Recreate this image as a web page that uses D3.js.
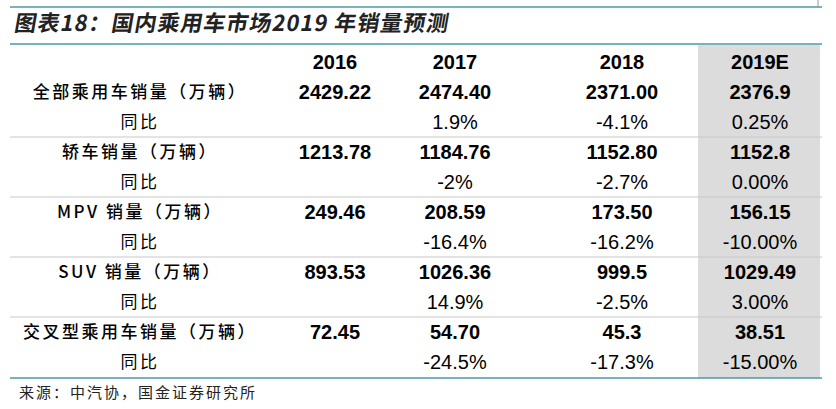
<!DOCTYPE html><html><head><meta charset="utf-8"><script src="https://cdn.jsdelivr.net/npm/d3@7"></script>
<style>body{margin:0;background:#fff}</style></head><body><svg id="c" width="836" height="409"></svg>
<script>
const years=["2016","2017","2018","2019E"];
const rowLabels=["全部乘用车销量（万辆）","同比","轿车销量（万辆）","同比","MPV 销量（万辆）","同比","SUV 销量（万辆）","同比","交叉型乘用车销量（万辆）","同比"];
const v2016=["2429.22","","1213.78","","249.46","","893.53","","72.45",""];
const v2017=["2474.40","1.9%","1184.76","-2%","208.59","-16.4%","1026.36","14.9%","54.70","-24.5%"];
const v2018=["2371.00","-4.1%","1152.80","-2.7%","173.50","-16.2%","999.5","-2.5%","45.3","-17.3%"];
const v2019=["2376.9","0.25%","1152.8","0.00%","156.15","-10.00%","1029.49","3.00%","38.51","-15.00%"];
const cols=[v2016,v2017,v2018,v2019];
const svg=d3.select("#c");
const teal="#4a9aa5";
const num="'Liberation Sans Narrow','Arial Narrow','Liberation Sans',Arial,sans-serif";
const cjk="'Noto Sans CJK SC',sans-serif";
const y=d3.scaleBand().domain(d3.range(11)).range([47,377]);
const colX=[335,455,622,760];
svg.append("rect").attr("x",698).attr("y",45).attr("width",122).attr("height",333).attr("fill","#dcdcdc");
svg.append("line").attr("x1",10).attr("x2",822).attr("y1",7).attr("y2",7).attr("stroke",teal).attr("stroke-width",1.5);
svg.append("line").attr("x1",818).attr("x2",818).attr("y1",0).attr("y2",7).attr("stroke","#999");
svg.append("text").attr("x",14).attr("y",31).attr("font-family",cjk).attr("font-weight","bold").attr("font-size",22).attr("letter-spacing",1).attr("fill","#222").attr("transform","skewX(-10) translate(5,0)")
 .text("图表18：国内乘用车市场2019 年销量预测");
svg.append("line").attr("x1",10).attr("x2",822).attr("y1",44).attr("y2",44).attr("stroke",teal).attr("stroke-width",1.5);
svg.append("line").attr("x1",10).attr("x2",822).attr("y1",378).attr("y2",378).attr("stroke",teal).attr("stroke-width",1.5);
[2,4,6,8].forEach(i=>svg.append("line").attr("x1",10).attr("x2",822).attr("y1",y(i+1)).attr("y2",y(i+1)).attr("stroke","#c8c8c8").attr("stroke-width",1));
years.forEach((t,j)=>svg.append("text").attr("x",colX[j]).attr("y",y(0)+y.bandwidth()/2+7).attr("text-anchor","middle").attr("font-family",num).attr("font-weight","bold").attr("font-size",20).attr("fill","#000").text(t));
rowLabels.forEach((l,i)=>{
 const cy=y(i+1)+y.bandwidth()/2;
 svg.append("text").attr("x",140).attr("y",cy+6).attr("text-anchor","middle").attr("font-family",cjk).attr("font-weight",i%2?"normal":"500").attr("font-size",17).attr("letter-spacing",2.5).attr("fill","#000").text(l);
 cols.forEach((c,j)=>{ if(c[i]) svg.append("text").attr("x",colX[j]).attr("y",cy+7).attr("text-anchor","middle").attr("font-family",num).attr("font-weight",i%2?"normal":"bold").attr("font-size",20).attr("fill","#000").text(c[i]);});
});
svg.append("text").attr("x",19).attr("y",398).attr("font-family",cjk).attr("font-size",15).attr("letter-spacing",2).attr("fill","#222").text("来源：中汽协，国金证券研究所");
</script></body></html>
